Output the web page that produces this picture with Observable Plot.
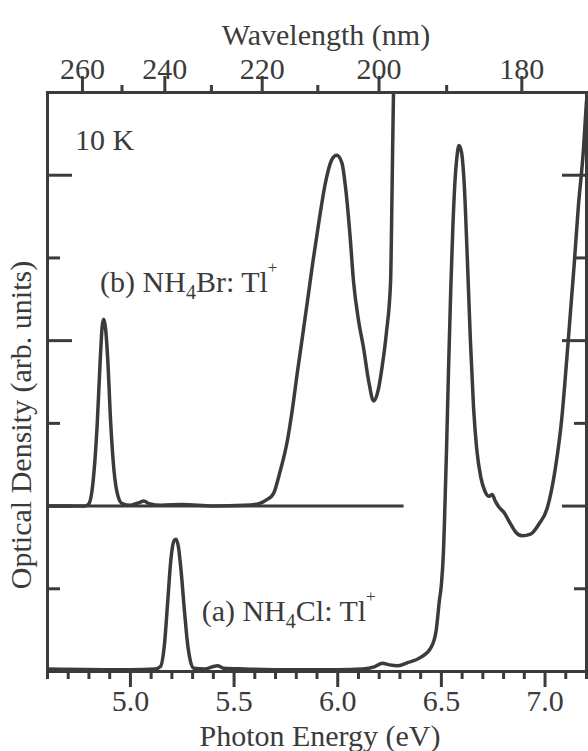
<!DOCTYPE html>
<html><head><meta charset="utf-8">
<script src="https://cdn.jsdelivr.net/npm/d3@7"></script>
<script src="https://cdn.jsdelivr.net/npm/@observablehq/plot@0.6"></script>
<style>
body{margin:0;background:#fff;}
#chart{position:relative;width:588px;height:751px;}
svg{overflow:visible}
</style></head><body><div id="chart"></div>
<script>
// (b) NH4Br:Tl+ spectrum (offset baseline at OD = 2)
const energyB = [4.60,4.78,4.80,4.82,4.84,4.855,4.865,4.872,4.88,4.89,4.905,4.92,4.94,4.96,5.00,5.04,5.065,5.09,5.15,5.25,5.40,5.55,5.62,5.66,5.69,5.72,5.757,5.78,5.806,5.83,5.854,5.88,5.91,5.94,5.97,5.995,6.02,6.04,6.06,6.076,6.10,6.124,6.15,6.173,6.195,6.215,6.235,6.255,6.262,6.269,6.273];
const odB     = [2.00,2.00,2.03,2.30,3.00,3.80,4.20,4.26,4.15,3.80,3.00,2.45,2.12,2.03,2.01,2.04,2.06,2.03,2.01,2.02,2.00,2.01,2.03,2.08,2.15,2.40,2.79,3.15,3.63,4.05,4.48,4.95,5.45,5.90,6.18,6.24,6.15,5.80,5.25,4.72,4.25,3.92,3.50,3.27,3.40,3.70,4.10,4.72,5.80,7.00,7.30];
// (a) NH4Cl:Tl+ spectrum
const energyA = [4.60,5.00,5.12,5.145,5.165,5.18,5.195,5.21,5.22,5.232,5.245,5.26,5.275,5.29,5.306,5.36,5.40,5.42,5.45,5.55,5.80,6.00,6.12,6.18,6.215,6.25,6.29,6.34,6.40,6.45,6.475,6.49,6.50,6.51,6.515,6.525,6.535,6.545,6.555,6.565,6.575,6.585,6.597,6.61,6.625,6.64,6.655,6.67,6.69,6.71,6.73,6.745,6.76,6.78,6.80,6.83,6.86,6.89,6.93,6.97,7.01,7.05,7.08,7.11,7.14,7.16,7.185,7.20];
const odA     = [0.03,0.02,0.03,0.06,0.35,0.85,1.35,1.58,1.60,1.50,1.20,0.75,0.35,0.12,0.04,0.03,0.06,0.07,0.04,0.03,0.02,0.02,0.03,0.06,0.10,0.08,0.07,0.11,0.17,0.29,0.50,0.85,1.05,1.45,1.82,2.70,3.70,4.60,5.35,5.90,6.22,6.36,6.28,5.90,5.00,4.00,3.20,2.70,2.35,2.18,2.12,2.14,2.06,1.98,1.93,1.80,1.68,1.64,1.66,1.78,1.97,2.46,3.04,3.94,4.90,5.60,6.30,6.90];
// baseline drawn for (b)
const baselineB = {od: 2, from: 4.6, to: 6.32};
// ticks
const energyTicks = [5.0,5.5,6.0,6.5,7.0];
const energyMinor = [4.6,4.7,4.8,4.9,5.1,5.2,5.3,5.4,5.6,5.7,5.8,5.9,6.1,6.2,6.3,6.4,6.6,6.7,6.8,6.9,7.1,7.2];
const wavelengthTicks = [260,240,220,200,180];
const wavelengthMinor = [250,230,210,190];
const odLongTicks = [2,4,6];
const odShortTicks = [1,3,5];

const hc = 1239.84; // eV*nm
const ink = "#3b3b3b";
const font = "'Liberation Serif','Times New Roman',serif";
const dataA = energyA.map((e,i)=>({e, od: odA[i]}));
const dataB = energyB.map((e,i)=>({e, od: odB[i]}));
const blank = () => "";

const plot = Plot.plot({
  width: 588, height: 751,
  marginLeft: 47, marginRight: 2, marginTop: 92, marginBottom: 80,
  x: {domain: [4.6, 7.2], label: null},
  y: {domain: [0, 7], label: null},
  style: {fontFamily: font, fontSize: "30px", color: ink, background: "white"},
  marks: [
    Plot.ruleY([baselineB.od], {x1: baselineB.from, x2: baselineB.to, stroke: ink, strokeWidth: 3}),
    Plot.line(dataA, {x: "e", y: "od", stroke: ink, strokeWidth: 3.5, curve: "monotone-x", clip: true, strokeLinejoin: "round"}),
    Plot.line(dataB, {x: "e", y: "od", stroke: ink, strokeWidth: 3.5, curve: "monotone-x", clip: true, strokeLinejoin: "round"}),
    Plot.frame({stroke: ink, strokeWidth: 3}),
    Plot.axisX(energyTicks, {anchor: "bottom", tickSize: 16, tickPadding: 2, strokeWidth: 3, tickFormat: d3.format(".1f"), fontSize: 30}),
    Plot.axisX(energyMinor, {anchor: "bottom", tickSize: 8, strokeWidth: 3, tickFormat: blank}),
    Plot.axisX(wavelengthTicks.map(l => hc / l), {anchor: "top", tickSize: 17, tickPadding: -3, strokeWidth: 3, tickFormat: e => String(Math.round(hc / e)), fontSize: 30}),
    Plot.axisX(wavelengthMinor.map(l => hc / l), {anchor: "top", tickSize: 8, strokeWidth: 3, tickFormat: blank}),
    Plot.axisY(odLongTicks, {anchor: "left", tickSize: 25, dx: 25, strokeWidth: 3, tickFormat: blank}),
    Plot.axisY(odShortTicks, {anchor: "left", tickSize: 13, dx: 13, strokeWidth: 3, tickFormat: blank}),
    Plot.axisY(odLongTicks, {anchor: "right", tickSize: 25, dx: -25, strokeWidth: 3, tickFormat: blank}),
    Plot.axisY(odShortTicks, {anchor: "right", tickSize: 13, dx: -13, strokeWidth: 3, tickFormat: blank})
  ]
});
document.getElementById("chart").appendChild(plot);

const svg = d3.select(plot);
const sx = plot.scale("x"), sy = plot.scale("y");

// axis titles
svg.append("text").attr("x", 326).attr("y", 45).attr("text-anchor", "middle")
  .attr("font-family", font).attr("font-size", 30).attr("fill", ink).text("Wavelength (nm)");
svg.append("text").attr("x", 320).attr("y", 746).attr("text-anchor", "middle")
  .attr("font-family", font).attr("font-size", 30).attr("fill", ink).text("Photon Energy (eV)");
svg.append("text").attr("transform", "translate(31,425) rotate(-90)").attr("text-anchor", "middle")
  .attr("font-family", font).attr("font-size", 30).attr("fill", ink).text("Optical Density (arb. units)");

// annotations (data coordinates: energy, OD at text baseline)
function rich(e, od, parts) {
  const t = svg.append("text").attr("x", sx.apply(e)).attr("y", sy.apply(od))
    .attr("text-anchor", "start")
    .attr("font-family", font).attr("font-size", 30).attr("fill", ink);
  for (const [txt, kind] of parts) {
    const s = t.append("tspan").text(txt);
    if (kind === "sub") s.attr("font-size", 20).attr("dy", 7);
    else if (kind === "sup") s.attr("font-size", 17).attr("dy", -19);
    else if (kind === "after-sub") s.attr("dy", -7);
  }
}
rich(4.735, 6.30, [["10 K"]]);
rich(4.856, 4.58, [["(b) NH"], ["4", "sub"], ["Br: Tl", "after-sub"], ["+", "sup"]]);
rich(5.346, 0.61, [["(a) NH"], ["4", "sub"], ["Cl: Tl", "after-sub"], ["+", "sup"]]);
</script>
</body></html>
